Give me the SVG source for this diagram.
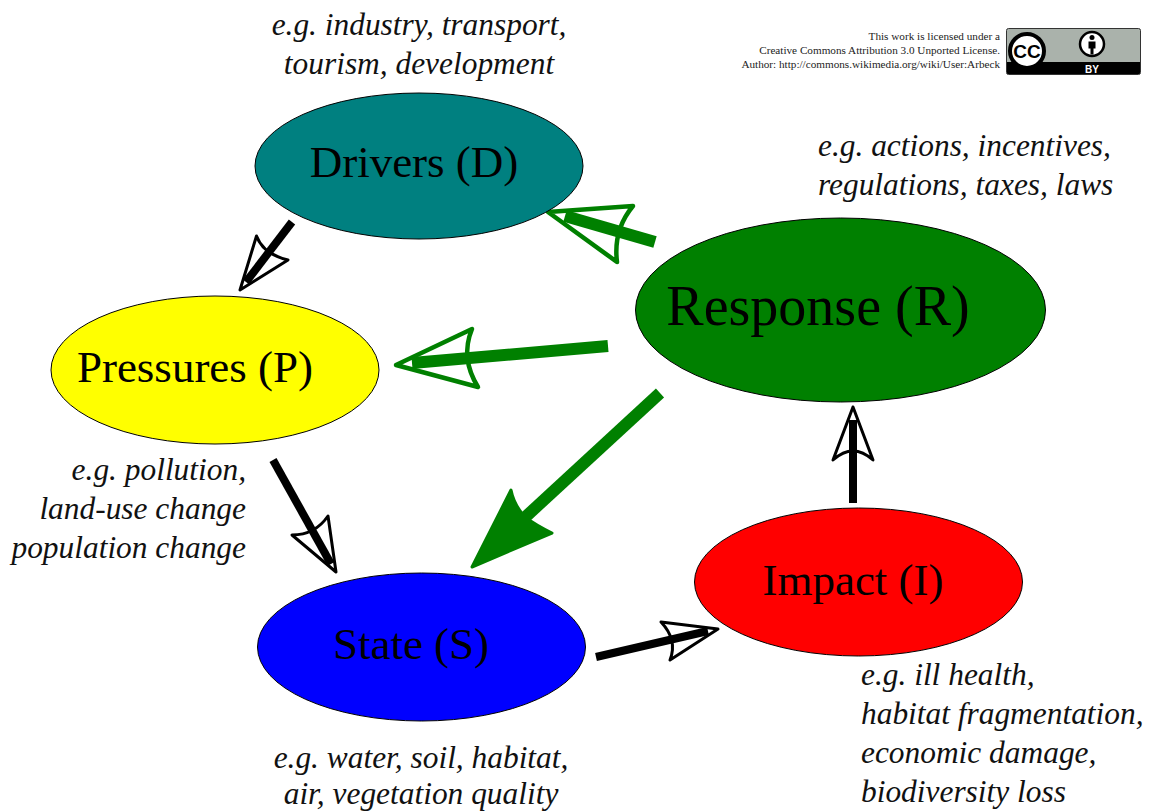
<svg xmlns="http://www.w3.org/2000/svg" width="1150" height="811" viewBox="0 0 1150 811">
<style>
.n{stroke:#000;stroke-width:1}
.t{font-family:"Liberation Serif",serif;fill:#000;text-anchor:middle}
.nl{font-size:45px}
.e{font-family:"Liberation Serif",serif;font-style:italic;font-size:31.400px;fill:#111}
.m{text-anchor:middle}.r{text-anchor:end}
.lic{font-family:"Liberation Serif",serif;font-size:11.200px;fill:#222;text-anchor:end}
.g{stroke:#008000}.k{stroke:#000}
.sh{fill:none;stroke-width:8;stroke-linecap:butt}
.hd{fill:none;stroke-width:4.500;stroke-linejoin:round}
.hk{fill:none;stroke-width:3;stroke-linejoin:round}
</style>
<rect width="1150" height="811" fill="#fff"/>
<g id="connectors">
<g id="d-p"><path class="k hk" d="M240 290L256.500 236Q263 254 288 260Z"/><path class="k sh" d="M292 222L246 282"/></g>
<g id="p-s"><path class="k hk" d="M336 572L292 535Q315 535 328 516Z"/><path class="k sh" d="M273 460L331 564"/></g>
<g id="s-i"><path class="k hk" d="M718 629L661 622Q678 640 670 660Z"/><path class="k sh" d="M596 657L708 631"/></g>
<g id="i-r"><path class="k hk" d="M853 407L833 460Q853 442 873 460Z"/><path class="k sh" d="M853 503L853 420"/></g>
<g id="r-d"><path class="g hd" d="M548 212L633 206Q613 230 617 262Z"/><path class="g sh" d="M655 242L565 216" style="stroke-width:12"/></g>
<g id="r-p"><path class="g hd" d="M396 365L472 329Q460 358 478 387Z"/><path class="g sh" d="M608 346L412 363" style="stroke-width:12"/></g>
<g id="r-s"><path d="M472 567L511 490Q514 505 525 517Q537 526 552 533Z" fill="#008000" stroke="#008000" stroke-width="3" stroke-linejoin="round"/><path class="g sh" d="M660 393L520 522" style="stroke-width:12"/></g>
</g>
<g id="drivers"><ellipse class="n" cx="419" cy="166" rx="164" ry="73" fill="#008080"/><text class="t nl" x="414" y="177">Drivers (D)</text></g>
<g id="pressures"><ellipse class="n" cx="215" cy="370" rx="164" ry="74" fill="#ff0"/><text class="t nl" x="195" y="382">Pressures (P)</text></g>
<g id="response"><ellipse class="n" cx="840.500" cy="310" rx="205" ry="92" fill="#008000"/><text class="t" font-size="56" x="818" y="325">Response (R)</text></g>
<g id="state"><ellipse class="n" cx="421.500" cy="647" rx="164" ry="74" fill="#00f"/><text class="t nl" x="411" y="659">State (S)</text></g>
<g id="impact"><ellipse class="n" cx="858.500" cy="582" rx="164" ry="74" fill="#f00"/><text class="t nl" x="853" y="595">Impact (I)</text></g>
<g id="labels">
<text class="e m" x="419" y="35">e.g. industry, transport,</text>
<text class="e m" x="419" y="74">tourism, development</text>
<text class="e" x="818" y="156">e.g. actions, incentives,</text>
<text class="e" x="818" y="195">regulations, taxes, laws</text>
<text class="e r" x="246" y="480">e.g. pollution,</text>
<text class="e r" x="246" y="519">land-use change</text>
<text class="e r" x="246" y="558">population change</text>
<text class="e m" x="421" y="768">e.g. water, soil, habitat,</text>
<text class="e m" x="421" y="804">air, vegetation quality</text>
<text class="e" x="861" y="685">e.g. ill health,</text>
<text class="e" x="861" y="724">habitat fragmentation,</text>
<text class="e" x="861" y="763">economic damage,</text>
<text class="e" x="861" y="802">biodiversity loss</text>
</g>
<g id="license">
<text class="lic" x="1000" y="40">This work is licensed under a</text>
<text class="lic" x="1000" y="54">Creative Commons Attribution 3.0 Unported License.</text>
<text class="lic" x="1000" y="68">Author: http://commons.wikimedia.org/wiki/User:Arbeck</text>
<rect x="1006.500" y="28.500" width="134" height="46" rx="2" fill="#aab2ab" stroke="#333"/>
<path d="M1007 62H1140V73a1 1 0 0 1-1 1H1008a1 1 0 0 1-1-1Z" fill="#000"/>
<circle cx="1027" cy="51" r="17" fill="#fff" stroke="#000" stroke-width="4"/>
<text x="1027" y="58" font-family="Liberation Sans,sans-serif" font-weight="bold" font-size="19" text-anchor="middle" fill="#000">CC</text>
<circle cx="1092" cy="44" r="12" fill="#fff" stroke="#000" stroke-width="2.500"/>
<circle cx="1092" cy="37.500" r="2.500" fill="#000"/>
<path d="M1088.500 41.500h7v7h-2v6h-3v-6h-2Z" fill="#000"/>
<text x="1092" y="73" font-family="Liberation Sans,sans-serif" font-weight="bold" font-size="10" text-anchor="middle" fill="#fff">BY</text>
</g>
</svg>
